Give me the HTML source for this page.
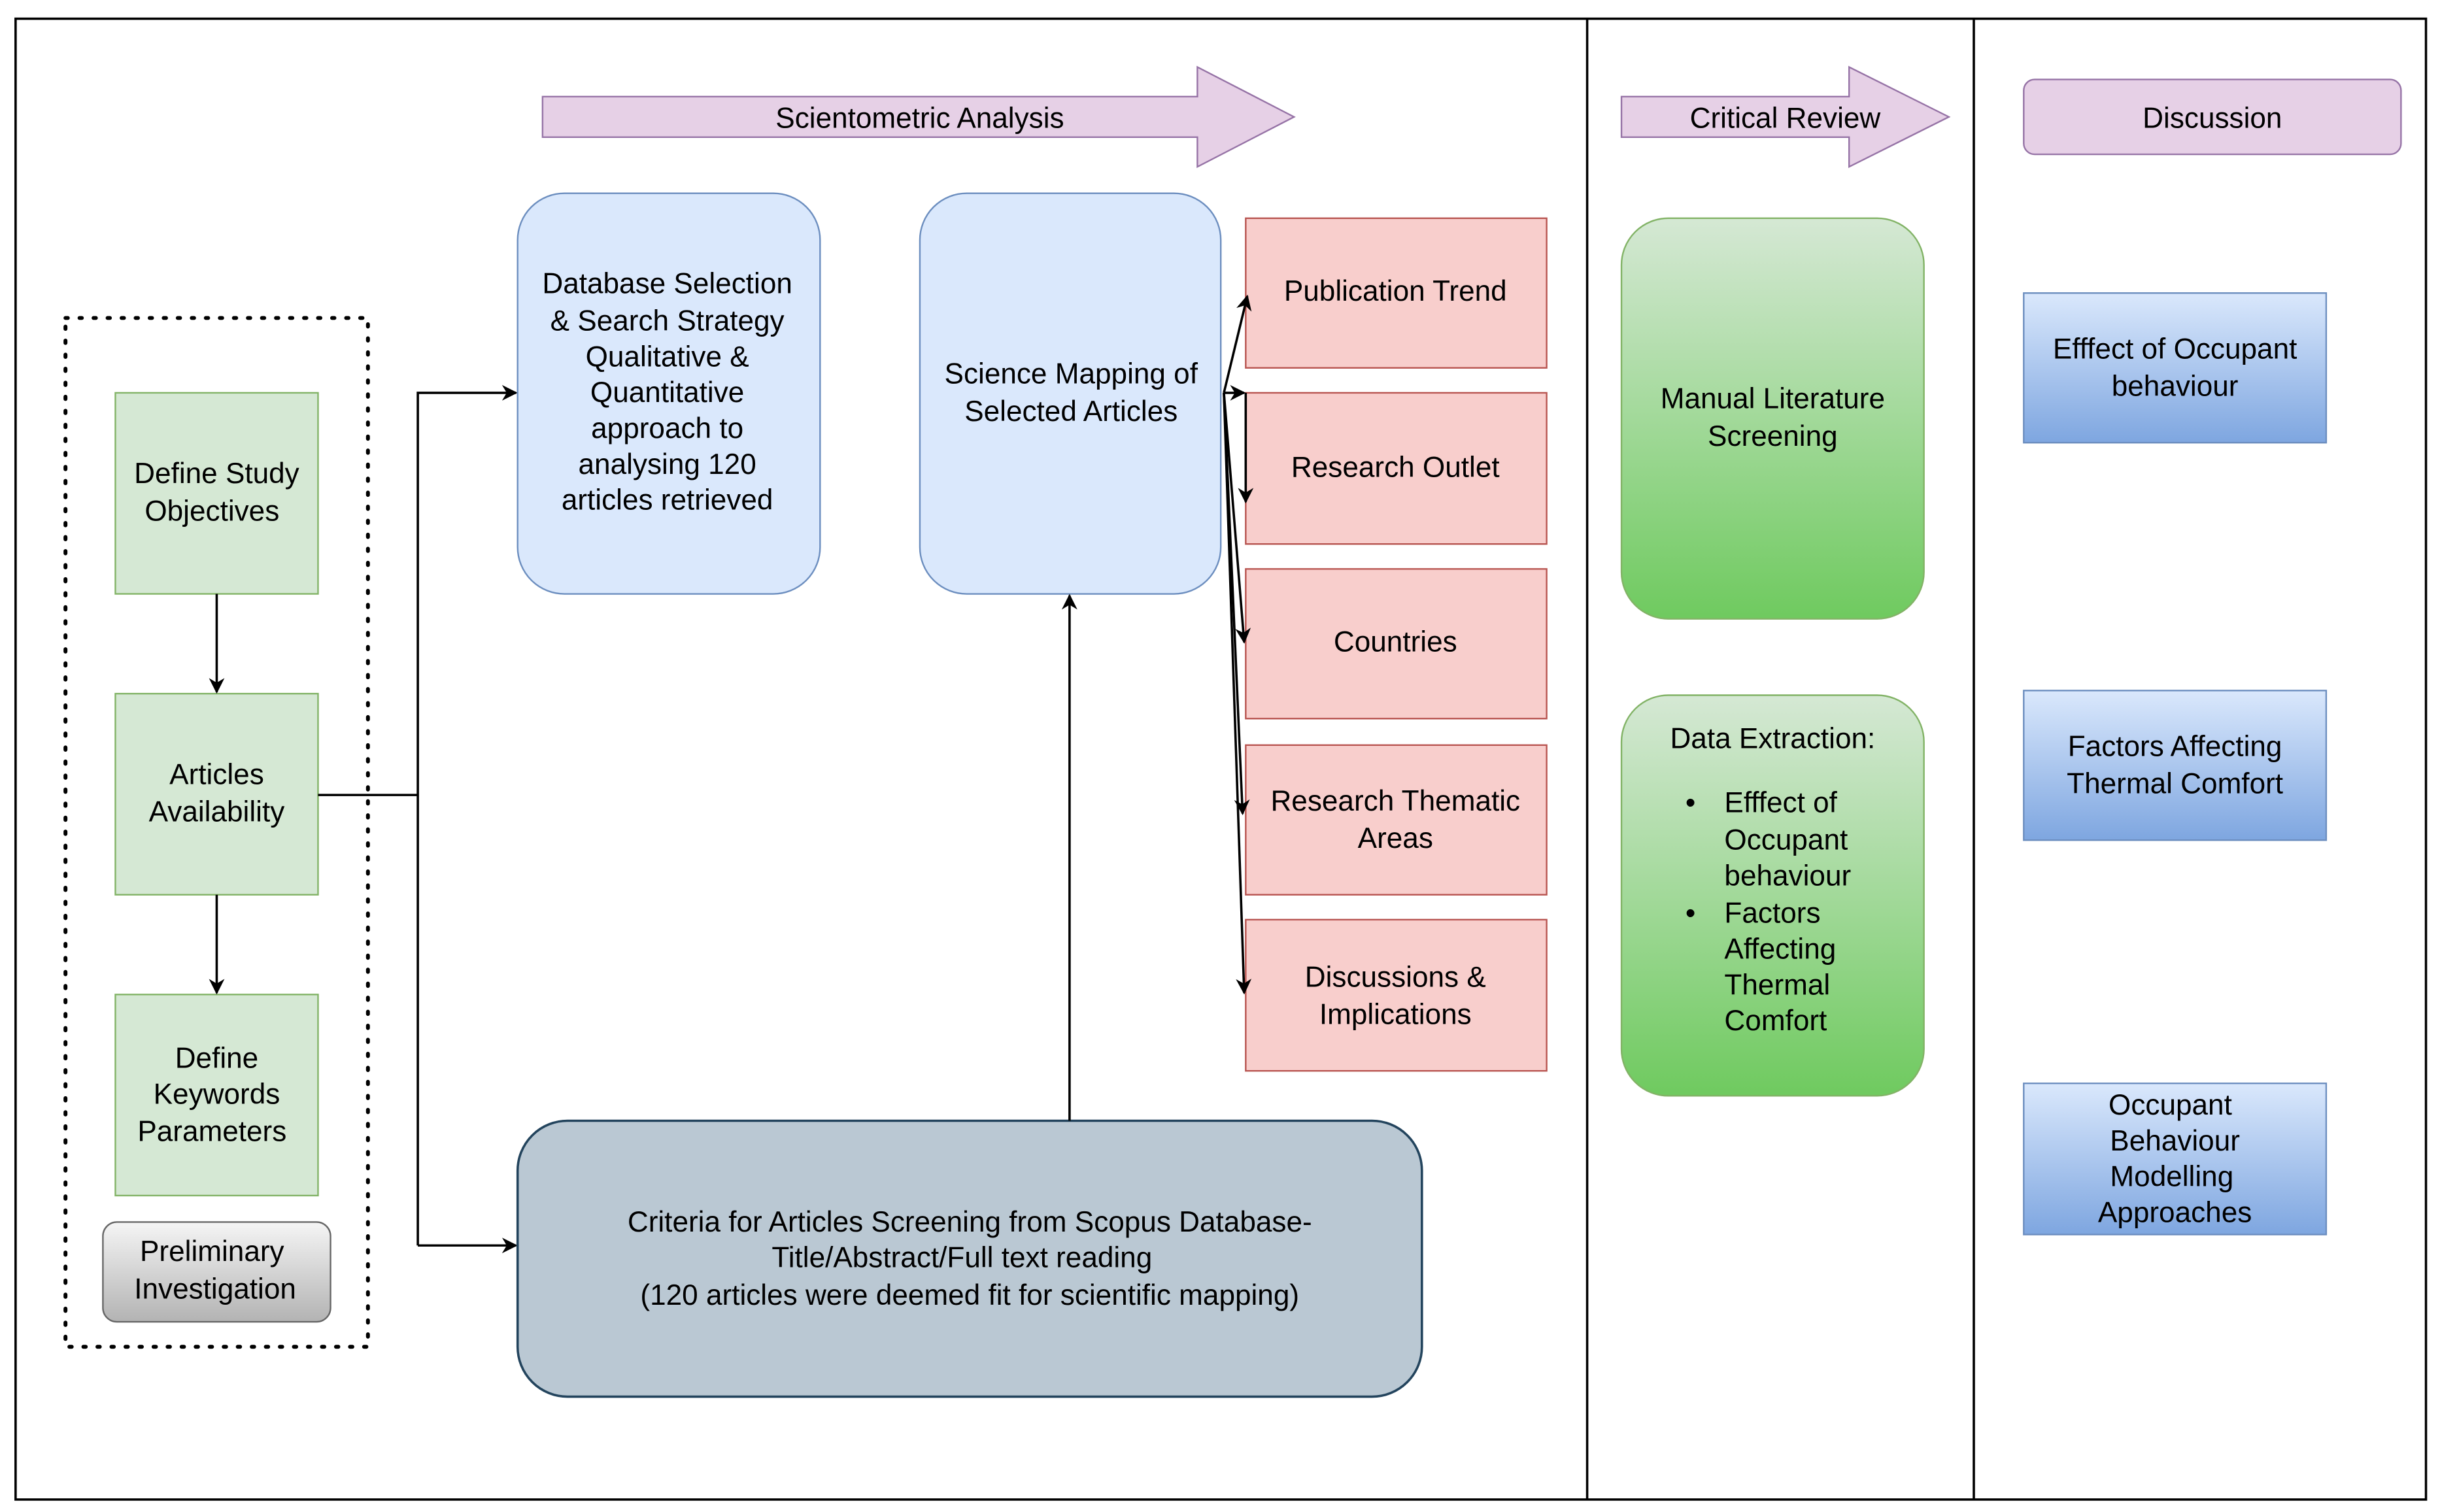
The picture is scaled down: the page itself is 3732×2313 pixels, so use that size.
<!DOCTYPE html>
<html><head><style>html,body{margin:0;padding:0;background:#fff}svg{display:block}</style></head>
<body>
<svg width="3732" height="2313" viewBox="0 0 1565 970" preserveAspectRatio="none" xmlns="http://www.w3.org/2000/svg" font-family="Liberation Sans, Arial, sans-serif" font-size="18.5" text-anchor="middle">
<defs>
<marker id="ah" viewBox="0 0 10 10" refX="9" refY="5" markerWidth="10" markerHeight="10" markerUnits="userSpaceOnUse" orient="auto"><path d="M0,0 L10,5 L0,10 L3,5 z" fill="#000"/></marker>
<linearGradient id="gg" x1="0" y1="0" x2="0" y2="1"><stop offset="0" stop-color="#d5e8d4"/><stop offset="1" stop-color="#6fca5f"/></linearGradient>
<linearGradient id="bg" x1="0" y1="0" x2="0" y2="1"><stop offset="0" stop-color="#dae8fc"/><stop offset="1" stop-color="#7ea6e0"/></linearGradient>
<linearGradient id="gr" x1="0" y1="0" x2="0" y2="1"><stop offset="0" stop-color="#f5f5f5"/><stop offset="1" stop-color="#b3b3b3"/></linearGradient>
</defs>
<rect x="10" y="12" width="1546" height="950" fill="#fff" stroke="#000" stroke-width="1.5"/>
<line x1="1018" y1="12" x2="1018" y2="962" stroke="#000" stroke-width="1.5"/>
<line x1="1266" y1="12" x2="1266" y2="962" stroke="#000" stroke-width="1.5"/>

<polygon points="348,62 768,62 768,43 830,75 768,107 768,88 348,88" fill="#e6d0e6" stroke="#9673a6"/>
<text x="590" y="82">Scientometric Analysis</text>
<polygon points="1040,62 1186,62 1186,43 1250,75 1186,107 1186,88 1040,88" fill="#e6d0e6" stroke="#9673a6"/>
<text x="1145" y="82">Critical Review</text>
<rect x="1298" y="51" width="242" height="48" rx="7" fill="#e6d0e6" stroke="#9673a6"/>
<text x="1419" y="82">Discussion</text>

<rect x="42" y="204" width="194" height="660" fill="none" stroke="#000" stroke-width="2.5" stroke-dasharray="1.5,7.5" stroke-linecap="round"/>
<rect x="74" y="252" width="130" height="129" fill="#d5e8d4" stroke="#82b366"/>
<text x="139" y="310">Define Study</text><text x="136" y="334">Objectives</text>
<rect x="74" y="445" width="130" height="129" fill="#d5e8d4" stroke="#82b366"/>
<text x="139" y="503">Articles</text><text x="139" y="527">Availability</text>
<rect x="74" y="638" width="130" height="129" fill="#d5e8d4" stroke="#82b366"/>
<text x="139" y="685">Define</text><text x="139" y="708">Keywords</text><text x="136" y="732">Parameters</text>
<rect x="66" y="784" width="146" height="64" rx="9" fill="url(#gr)" stroke="#666"/>
<text x="136" y="809">Preliminary</text><text x="138" y="833">Investigation</text>
<line x1="139" y1="381" x2="139" y2="444" stroke="#000" stroke-width="1.5" marker-end="url(#ah)"/>
<line x1="139" y1="574" x2="139" y2="637" stroke="#000" stroke-width="1.5" marker-end="url(#ah)"/>
<polyline points="204,510 268,510" fill="none" stroke="#000" stroke-width="1.5"/>
<polyline points="268,799 268,252 331,252" fill="none" stroke="#000" stroke-width="1.5" marker-end="url(#ah)"/>
<line x1="268" y1="799" x2="331" y2="799" stroke="#000" stroke-width="1.5" marker-end="url(#ah)"/>

<rect x="332" y="124" width="194" height="257" rx="30" fill="#dae8fc" stroke="#6c8ebf"/>
<text x="428" y="188">Database Selection</text><text x="428" y="212">&amp; Search Strategy</text><text x="428" y="235">Qualitative &amp;</text><text x="428" y="258">Quantitative</text><text x="428" y="281">approach to</text><text x="428" y="304">analysing 120</text><text x="428" y="327">articles retrieved</text>
<rect x="590" y="124" width="193" height="257" rx="30" fill="#dae8fc" stroke="#6c8ebf"/>
<text x="687" y="246">Science Mapping of</text><text x="687" y="270">Selected Articles</text>
<rect x="332" y="719" width="580" height="177" rx="32" fill="#bac8d3" stroke="#23445d" stroke-width="1.5"/>
<text x="622" y="790">Criteria for Articles Screening from Scopus Database-</text>
<text x="617" y="813">Title/Abstract/Full text reading</text>
<text x="622" y="837">(120 articles were deemed fit for scientific mapping)</text>
<line x1="686" y1="719" x2="686" y2="382" stroke="#000" stroke-width="1.5" marker-end="url(#ah)"/>

<g fill="#f8cecc" stroke="#b85450">
<rect x="799" y="140" width="193" height="96"/><rect x="799" y="252" width="193" height="97"/><rect x="799" y="365" width="193" height="96"/><rect x="799" y="478" width="193" height="96"/><rect x="799" y="590" width="193" height="97"/>
</g>
<text x="895" y="193">Publication Trend</text>
<text x="895" y="306">Research Outlet</text>
<text x="895" y="418">Countries</text>
<text x="895" y="520">Research Thematic</text><text x="895" y="544">Areas</text>
<text x="895" y="633">Discussions &amp;</text><text x="895" y="657">Implications</text>
<g stroke="#000" stroke-width="1.5" fill="none" marker-end="url(#ah)">
<line x1="785" y1="252" x2="800" y2="190"/>
<line x1="785" y1="252" x2="798" y2="252"/>
<polyline points="799,252 799,322"/>
<line x1="785" y1="252" x2="798" y2="412"/>
<line x1="785" y1="252" x2="797" y2="522"/>
<line x1="785" y1="252" x2="798" y2="637"/>
</g>

<rect x="1040" y="140" width="194" height="257" rx="30" fill="url(#gg)" stroke="#82b366"/>
<text x="1137" y="262">Manual Literature</text><text x="1137" y="286">Screening</text>
<rect x="1040" y="446" width="194" height="257" rx="30" fill="url(#gg)" stroke="#82b366"/>
<text x="1137" y="480">Data Extraction:</text>
<g text-anchor="start">
<text x="1081" y="521">•</text><text x="1106" y="521">Efffect of</text><text x="1106" y="545">Occupant</text><text x="1106" y="568">behaviour</text>
<text x="1081" y="592">•</text><text x="1106" y="592">Factors</text><text x="1106" y="615">Affecting</text><text x="1106" y="638">Thermal</text><text x="1106" y="661">Comfort</text>
</g>

<g fill="url(#bg)" stroke="#6c8ebf">
<rect x="1298" y="188" width="194" height="96"/><rect x="1298" y="443" width="194" height="96"/><rect x="1298" y="695" width="194" height="97"/>
</g>
<text x="1395" y="230">Efffect of Occupant</text><text x="1395" y="254">behaviour</text>
<text x="1395" y="485">Factors Affecting</text><text x="1395" y="509">Thermal Comfort</text>
<text x="1392" y="715">Occupant</text><text x="1395" y="738">Behaviour</text><text x="1393" y="761">Modelling</text><text x="1395" y="784">Approaches</text>
</svg>
</body></html>
